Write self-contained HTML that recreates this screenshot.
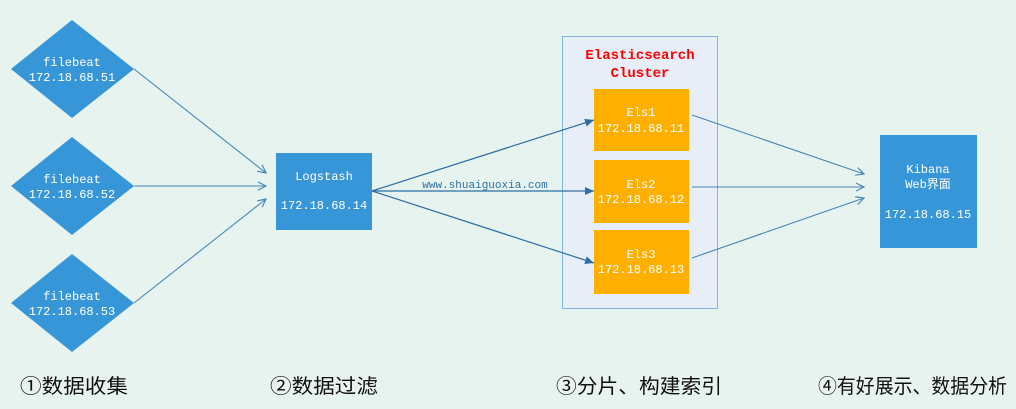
<!DOCTYPE html>
<html><head><meta charset="utf-8"><style>
html,body{margin:0;padding:0;background:#e6f3ef;}
svg{display:block}
.m{font-family:"Liberation Mono","Noto Sans CJK SC",monospace;font-size:12px;fill:#fff;text-anchor:middle}
.b{font-family:"Liberation Sans","Noto Sans CJK SC",sans-serif;font-size:20px;fill:#111}
</style></head><body>
<svg width="1016" height="409" viewBox="0 0 1016 409" xmlns="http://www.w3.org/2000/svg">
<defs>
<marker id="o" markerWidth="10" markerHeight="10" refX="9" refY="5" orient="auto" markerUnits="userSpaceOnUse"><path d="M1,1 L9,5 L1,9" fill="none" stroke="#4a86b8" stroke-width="1.2"/></marker>
<marker id="f" markerWidth="10" markerHeight="10" refX="9" refY="5" orient="auto" markerUnits="userSpaceOnUse"><path d="M0,1 L9,5 L0,9 Z" fill="#2e6fa3"/></marker>
</defs>
<rect width="1016" height="409" fill="#e6f3ef"/>
<rect x="562.5" y="36.5" width="155" height="272" fill="#e8eef8" stroke="#7fb2e5"/>
<text x="640" y="59" font-family="Liberation Mono,monospace" font-weight="bold" font-size="14" fill="#f00" text-anchor="middle">Elasticsearch</text>
<text x="640" y="77" font-family="Liberation Mono,monospace" font-weight="bold" font-size="14" fill="#f00" text-anchor="middle">Cluster</text>
<g fill="#3796d8">
<polygon points="72,20 134,69 72,118 11,69"/>
<polygon points="72,137 134,186 72,235 11,186"/>
<polygon points="72,254 134,303 72,352 11,303"/>
<rect x="276" y="153" width="96" height="77"/>
<rect x="880" y="135" width="97" height="113"/>
</g>
<g fill="#ffaf00">
<rect x="594" y="89" width="95" height="62"/>
<rect x="594" y="160" width="95" height="63"/>
<rect x="594" y="230" width="95" height="64"/>
</g>
<g stroke="#4a86b8" stroke-width="1.1" fill="none" marker-end="url(#o)">
<line x1="134" y1="69" x2="266" y2="173"/>
<line x1="134" y1="186" x2="266" y2="186"/>
<line x1="134" y1="303" x2="266" y2="199"/>
<line x1="692" y1="115" x2="864" y2="174"/>
<line x1="692" y1="187" x2="864" y2="187"/>
<line x1="692" y1="258" x2="864" y2="198"/>
</g>
<g stroke="#2e6fa3" stroke-width="1.2" fill="none" marker-end="url(#f)">
<line x1="372" y1="191" x2="594" y2="120"/>
<line x1="372" y1="191" x2="594" y2="191"/>
<line x1="372" y1="191" x2="594" y2="263"/>
</g>
<text x="485" y="188" font-family="Liberation Mono,monospace" font-size="11" fill="#2e6fa3" text-anchor="middle">www.shuaiguoxia.com</text>
<text class="m" x="72" y="66">filebeat</text><text class="m" x="72" y="81">172.18.68.51</text>
<text class="m" x="72" y="183">filebeat</text><text class="m" x="72" y="198">172.18.68.52</text>
<text class="m" x="72" y="300">filebeat</text><text class="m" x="72" y="315">172.18.68.53</text>
<text class="m" x="324" y="180">Logstash</text><text class="m" x="324" y="209">172.18.68.14</text>
<text class="m" x="641" y="116">Els1</text><text class="m" x="641" y="132">172.18.68.11</text>
<text class="m" x="641" y="188">Els2</text><text class="m" x="641" y="203">172.18.68.12</text>
<text class="m" x="641" y="258">Els3</text><text class="m" x="641" y="273">172.18.68.13</text>
<text class="m" x="928" y="173">Kibana</text><text class="m" x="928" y="188">Web界面</text>
<text class="m" x="928" y="218">172.18.68.15</text>
<text class="b" x="20" y="393" textLength="108" lengthAdjust="spacingAndGlyphs">①数据收集</text>
<text class="b" x="270" y="393" textLength="108" lengthAdjust="spacingAndGlyphs">②数据过滤</text>
<text class="b" x="556" y="393" textLength="166" lengthAdjust="spacingAndGlyphs">③分片、构建索引</text>
<text class="b" x="818" y="393" textLength="189" lengthAdjust="spacingAndGlyphs">④有好展示、数据分析</text>
</svg>
</body></html>
